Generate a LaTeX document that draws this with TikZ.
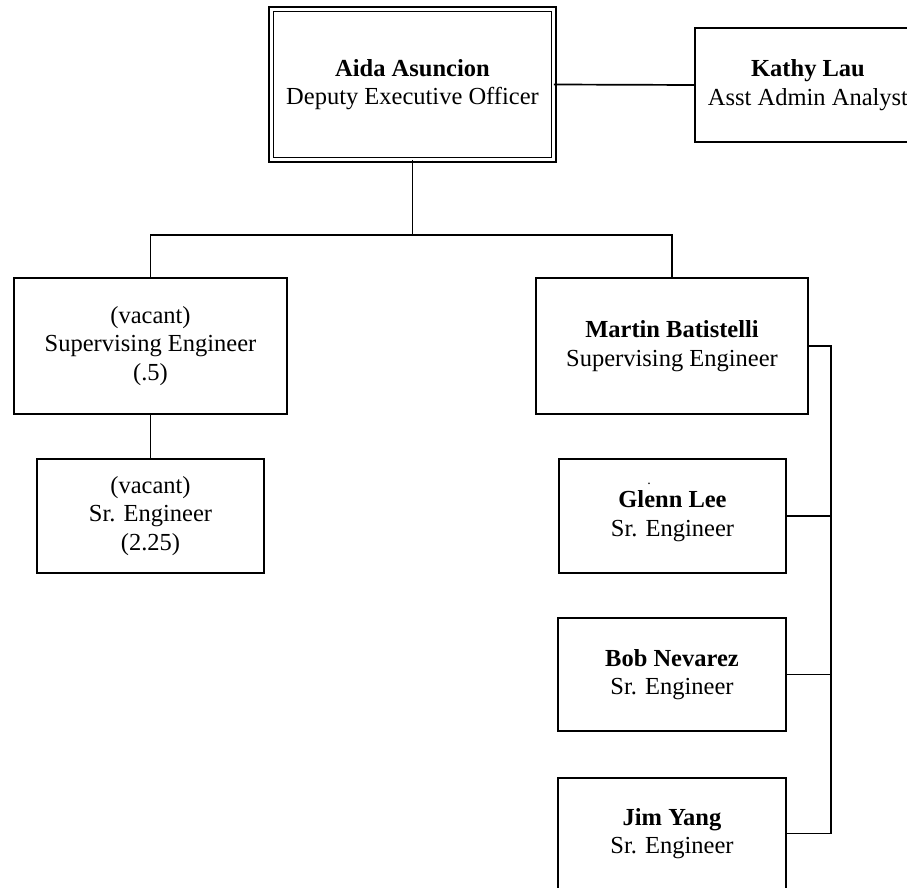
\documentclass[tikz,border=0pt]{standalone}
\usepackage{fontspec}
\setmainfont{Liberation Serif}
\begin{document}
\begin{tikzpicture}[x=1pt,y=-1pt,
  box/.style={draw, line width=1.8pt, rectangle, inner sep=0pt, outer sep=0pt, align=center,
    font=\fontsize{24.5}{28.5}\selectfont},
  dblbox/.style={box, line width=1.5pt, double, double distance=2.6pt},
  link/.style={line width=1.7pt}]
\useasboundingbox (0,0) rectangle (907,888);
\clip (0,0) rectangle (907,888);
\node[dblbox, minimum width=282.5pt, minimum height=150.5pt] (aida) at (412.5,84.5)
  {\textbf{Aida Asuncion}\\Deputy Executive Officer};
\node[box, minimum width=226pt, minimum height=114pt] (kathy) at (808,85)
  {\textbf{Kathy Lau}\\Asst Admin Analyst};
\node[box, minimum width=273pt, minimum height=136pt] (vsup) at (150.5,346)
  {(vacant)\\Supervising Engineer\\(.5)};
\node[box, minimum width=227pt, minimum height=114pt] (vsr) at (150.5,516)
  {(vacant)\\Sr. Engineer\\(2.25)};
\node[box, minimum width=272pt, minimum height=136pt] (martin) at (672,346)
  {\textbf{Martin Batistelli}\\Supervising Engineer};
\node[box, minimum width=227pt, minimum height=114pt] (glenn) at (672.5,516)
  {\textbf{Glenn Lee}\\Sr. Engineer};
\node[inner sep=0pt, font=\fontsize{14}{16}\selectfont, anchor=base] (dot) at (649,484) {.};
\node[box, minimum width=228pt, minimum height=113pt] (bob) at (672,674.5)
  {\textbf{Bob Nevarez}\\Sr. Engineer};
\node[box, minimum width=228pt, minimum height=111pt] (jim) at (672,833.5)
  {\textbf{Jim Yang}\\Sr. Engineer};
\coordinate (split) at (412.5,235);
\coordinate (bus) at (831,346);
\draw[link] (aida.east) -- (kathy.west);
\draw[link] (aida.south) -- (split);
\draw[link] (vsup.north) |- (split) -| (martin.north);
\draw[link] (vsup.south) -- (vsr.north);
\draw[link] (martin.east) -- (bus) |- (jim.east);
\draw[link] (bus) |- (glenn.east);
\draw[link] (bus) |- (bob.east);
\end{tikzpicture}
\end{document}
